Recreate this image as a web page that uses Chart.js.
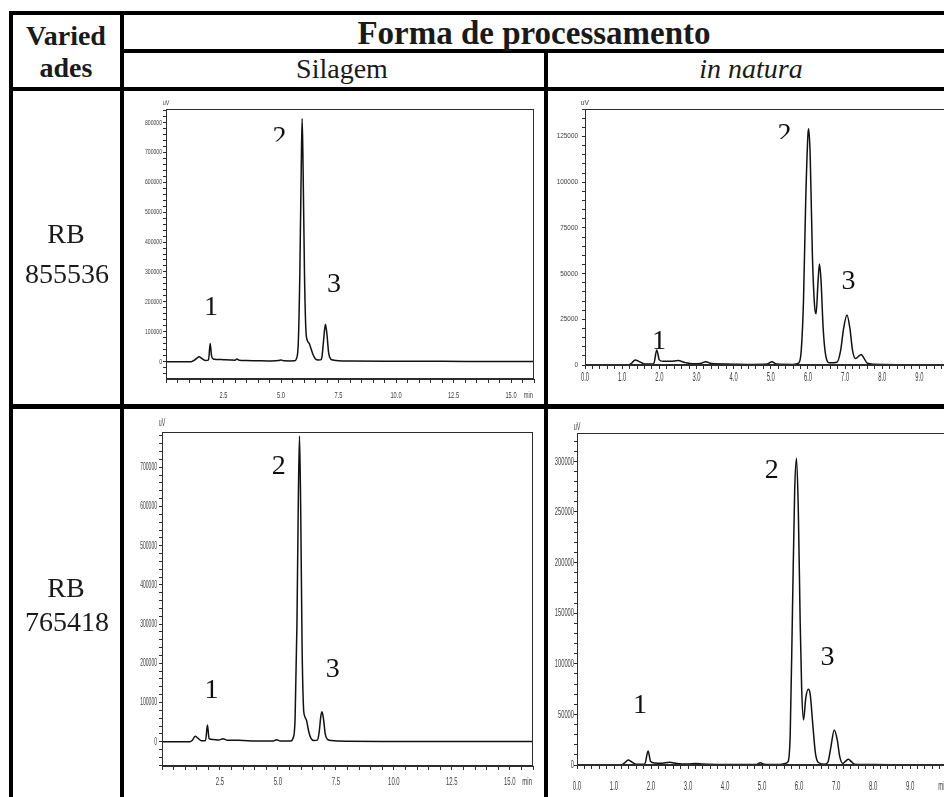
<!DOCTYPE html>
<html>
<head>
<meta charset="utf-8">
<script src="https://cdn.jsdelivr.net/npm/chart.js@4"></script>
<style>
  html, body { margin: 0; padding: 0; background: #fff; }
  #page { position: relative; width: 944px; height: 797px; overflow: hidden; background: #fff; }
  .rule { position: absolute; background: #000; }
  .cell-text { position: absolute; font-family: "Liberation Serif", "Times New Roman", serif;
               font-size: 28px; line-height: 28px; color: #1a1a1a; text-align: center; white-space: nowrap; }
  canvas { position: absolute; }
</style>
</head>
<body>
<div id="page">
  <canvas id="c1"></canvas>
  <canvas id="c2"></canvas>
  <canvas id="c3"></canvas>
  <canvas id="c4"></canvas>
</div>
<script>
// ---- table labels ----
const varietyHeader = ['Varied', 'ades'];
const groupHeader = 'Forma de processamento';
const processing = ['Silagem', 'in natura'];
const varieties = [['RB', '855536'], ['RB', '765418']];
const peakIds = ['1', '2', '3'];

// ---- chromatograms: retention time (min) and detector signal (uV) ----
const silagem855536Time = [0, 1.1, 1.25, 1.35, 1.44, 1.55, 1.7, 1.85, 1.92, 1.98, 2.05, 2.2, 2.5, 2.8, 3.0, 3.08, 3.18, 3.5, 4.0, 4.6, 4.9, 5.0, 5.12, 5.4, 5.6, 5.67, 5.75, 5.82, 5.88, 5.92, 5.96, 6.02, 6.08, 6.14, 6.22, 6.3, 6.4, 6.5, 6.62, 6.72, 6.78, 6.85, 6.93, 7.0, 7.07, 7.15, 7.3, 7.5, 8.0, 10, 12, 14, 16];
const silagem855536Signal = [0, 0, 6000, 12000, 16500, 11000, 4000, 6000, 61000, 20000, 9000, 7500, 6500, 5500, 5000, 8500, 5000, 4000, 3000, 2200, 3500, 5500, 3000, 2500, 3000, 10000, 60000, 300000, 650000, 813000, 650000, 300000, 110000, 72000, 62000, 45000, 22000, 9000, 5500, 6000, 15000, 70000, 124800, 90000, 30000, 10000, 5000, 3000, 2000, 1500, 1000, 800, 500];

const natura855536Time = [0, 1.15, 1.25, 1.35, 1.45, 1.6, 1.85, 1.93, 2.0, 2.1, 2.3, 2.5, 2.7, 2.9, 3.1, 3.25, 3.4, 3.8, 4.5, 4.9, 5.03, 5.15, 5.6, 5.75, 5.82, 5.88, 5.94, 6.0, 6.02, 6.06, 6.12, 6.18, 6.22, 6.27, 6.31, 6.35, 6.41, 6.48, 6.58, 6.78, 6.88, 6.96, 7.05, 7.13, 7.2, 7.28, 7.35, 7.43, 7.5, 7.6, 8.0, 9.0, 10.2];
const natura855536Signal = [0, 0, 900, 2700, 2000, 600, 600, 8200, 2800, 2000, 2000, 2400, 1300, 700, 800, 1800, 800, 600, 300, 500, 1800, 500, 300, 1000, 8000, 35000, 90000, 126000, 129200, 115000, 60000, 32000, 28000, 45000, 55300, 47000, 20000, 5000, 1200, 1500, 8000, 20000, 27400, 20000, 8000, 3500, 4500, 5800, 4000, 1000, 300, 200, 200];

const silagem765418Time = [0, 1.2, 1.3, 1.43, 1.55, 1.7, 1.88, 1.96, 2.03, 2.2, 2.45, 2.63, 2.8, 3.3, 4.0, 4.8, 4.95, 5.1, 5.55, 5.66, 5.74, 5.82, 5.88, 5.93, 5.98, 6.04, 6.1, 6.15, 6.23, 6.32, 6.42, 6.55, 6.7, 6.78, 6.85, 6.9, 6.96, 7.04, 7.12, 7.3, 7.6, 8, 10, 12, 14, 16];
const silagem765418Signal = [0, 0, 3000, 13600, 9000, 2500, 3000, 42500, 8000, 5500, 4500, 7500, 4000, 3500, 2000, 1500, 5000, 2000, 2000, 10000, 60000, 300000, 620000, 780000, 600000, 250000, 90000, 66000, 55000, 28000, 9000, 3000, 4000, 25000, 65000, 76500, 60000, 20000, 7000, 3000, 1500, 1000, 500, 300, 300, 200];

const natura765418Time = [0, 1.2, 1.3, 1.38, 1.48, 1.6, 1.83, 1.92, 1.99, 2.1, 2.3, 2.5, 2.7, 3.0, 3.2, 3.4, 4.0, 4.85, 4.95, 5.05, 5.5, 5.62, 5.7, 5.76, 5.82, 5.88, 5.93, 5.98, 6.03, 6.07, 6.12, 6.18, 6.25, 6.3, 6.37, 6.44, 6.52, 6.7, 6.78, 6.86, 6.95, 7.03, 7.1, 7.18, 7.25, 7.33, 7.42, 7.5, 8, 9, 10.2];
const natura765418Signal = [0, 0, 2500, 4900, 3000, 700, 800, 13800, 3500, 2000, 1800, 2600, 1500, 1000, 1600, 900, 500, 600, 2300, 800, 500, 1500, 3000, 30000, 150000, 270000, 303000, 250000, 140000, 75000, 44500, 66000, 74800, 70000, 40000, 12000, 2500, 800, 3000, 18000, 34600, 25000, 8000, 1600, 3500, 5600, 3000, 700, 400, 300, 300];

// ---- table drawing ----
const page = document.getElementById('page');
function rule(l, t, w, h) {
  const d = document.createElement('div');
  d.className = 'rule';
  Object.assign(d.style, { left: l + 'px', top: t + 'px', width: w + 'px', height: h + 'px' });
  page.appendChild(d);
}
// text centred on cx with its baseline at the given y
function cellText(str, cx, baseline, extra) {
  const d = document.createElement('div');
  d.className = 'cell-text';
  d.textContent = str;
  Object.assign(d.style, { left: (cx - 250) + 'px', width: '500px', top: (baseline - 23.4) + 'px' }, extra || {});
  page.appendChild(d);
}
rule(9, 11, 935, 4);      // top border
rule(9, 11, 4, 786);      // left border
rule(120, 11, 4, 786);    // first column
rule(120, 49, 824, 4);    // between header rows
rule(9, 87, 935, 4);      // under header
rule(544, 49, 4, 748);    // between processing columns
rule(9, 404, 935, 5);     // between varieties

cellText(varietyHeader[0], 66, 45, { fontWeight: 'bold' });
cellText(varietyHeader[1], 66, 77, { fontWeight: 'bold' });
cellText(groupHeader, 534, 44, { fontWeight: 'bold', fontSize: '33px', lineHeight: '28px', top: (44 - 25.1) + 'px' });
cellText(processing[0], 342, 78);
cellText(processing[1], 751, 78, { fontStyle: 'italic' });
cellText(varieties[0][0], 66, 243);
cellText(varieties[0][1], 67, 283);
cellText(varieties[1][0], 66, 597);
cellText(varieties[1][1], 67, 631);

// ---- chart helpers ----
function series(t, v) { return t.map((x, i) => ({ x: x, y: v[i] })); }
function isMultiple(v, step) { const q = v / step; return Math.abs(q - Math.round(q)) < 1e-6; }
function stepTicks(min, max, step) {
  const out = [];
  for (let k = Math.ceil(min / step - 1e-9); k * step <= max + 1e-9; k++) {
    out.push({ value: Math.round(k * step * 1000) / 1000 });
  }
  return out;
}

function squeezed(ctx, text, x, y, align, size, sx) {
  ctx.save();
  ctx.translate(x, y);
  ctx.scale(sx, 1);
  ctx.font = size + 'px "Liberation Sans", Arial, sans-serif';
  ctx.textAlign = align;
  ctx.textBaseline = 'middle';
  ctx.fillText(text, 0, 0);
  ctx.restore();
}

function makeOverlay(spec) {
  return {
    id: 'overlay',
    afterDraw(chart) {
      const ctx = chart.ctx, a = chart.chartArea, xs = chart.scales.x, ys = chart.scales.y;
      ctx.save();
      // plot frame
      ctx.strokeStyle = '#2c2c2c';
      ctx.lineWidth = 1;
      ctx.strokeRect(Math.round(a.left) + 0.5, Math.round(a.top) + 0.5,
                     Math.round(a.right - a.left) - 1, Math.round(a.bottom - a.top) - 1);
      ctx.fillStyle = '#3c3c3c';
      // y labels
      ys.ticks.forEach(t => {
        if (t.value >= 0 && isMultiple(t.value, spec.yLabelStep)) {
          squeezed(ctx, String(t.value), a.left - spec.yGap, ys.getPixelForValue(t.value), 'right', spec.yFont, spec.ySx);
        }
      });
      // x labels
      xs.ticks.forEach(t => {
        if (t.value >= spec.xLabelFrom && t.value <= spec.xLabelTo && isMultiple(t.value, spec.xLabelStep)) {
          squeezed(ctx, t.value.toFixed(1), xs.getPixelForValue(t.value), a.bottom + spec.xGap, 'center', spec.xFont, spec.xSx);
        }
      });
      squeezed(ctx, 'min', a.right - 1, a.bottom + spec.xGap, 'right', spec.xFont, spec.xSx);
      squeezed(ctx, 'uV', a.left, a.top - spec.unitGap, 'center', spec.unitFont, spec.ySx);
      // peak numbers
      ctx.fillStyle = '#111';
      ctx.font = '28px "Liberation Serif", "Times New Roman", serif';
      ctx.textAlign = 'center';
      ctx.textBaseline = 'alphabetic';
      spec.peaks.forEach((p, i) => {
        const px = xs.getPixelForValue(p.t), py = ys.getPixelForValue(p.v);
        ctx.save();
        if (p.cut) {
          ctx.beginPath();
          ctx.rect(px - 20, py - 40, 40, 40 - p.cut);
          ctx.clip();
        }
        ctx.fillText(peakIds[i], px, py);
        ctx.restore();
      });
      ctx.restore();
    }
  };
}

function buildChart(id, spec) {
  const cv = document.getElementById(id);
  cv.width = spec.box.w; cv.height = spec.box.h;
  cv.style.left = spec.box.l + 'px'; cv.style.top = spec.box.t + 'px';
  const axisColor = '#2c2c2c';
  return new Chart(cv, {
    type: 'line',
    data: {
      datasets: [{
        data: series(spec.time, spec.signal),
        borderColor: '#111', borderWidth: 1.5, pointRadius: 0,
        cubicInterpolationMode: 'monotone', fill: false
      }]
    },
    options: {
      responsive: false, animation: false, events: [],
      layout: { padding: { top: spec.pad.t, right: spec.pad.r, left: 0, bottom: 0 } },
      plugins: { legend: { display: false }, tooltip: { enabled: false } },
      scales: {
        x: {
          type: 'linear', min: spec.xMin, max: spec.xMax,
          ticks: { display: false },
          grid: { drawOnChartArea: false, drawTicks: true, tickLength: spec.xTick, color: axisColor, lineWidth: 1 },
          border: { display: true, color: axisColor, width: 1 },
          afterBuildTicks(s) { s.ticks = stepTicks(spec.xMin, spec.xMax, spec.xStep); },
          afterFit(s) { s.height = spec.xAxis; }
        },
        y: {
          type: 'linear', min: spec.yMin, max: spec.yMax,
          ticks: { display: false },
          grid: { drawOnChartArea: false, drawTicks: true, tickLength: spec.yTick, color: axisColor, lineWidth: 1 },
          border: { display: true, color: axisColor, width: 1 },
          afterBuildTicks(s) { s.ticks = stepTicks(spec.yMin, spec.yMax, spec.yStep); },
          afterFit(s) { s.width = spec.yAxis; }
        }
      }
    },
    plugins: [makeOverlay(spec)]
  });
}

buildChart('c1', {
  box: { l: 126, t: 95, w: 414, h: 308 }, pad: { t: 14, r: 6 }, yAxis: 40, xAxis: 24,
  time: silagem855536Time, signal: silagem855536Signal,
  xMin: 0, xMax: 16, xStep: 0.5, xTick: 4, xLabelStep: 2.5, xLabelFrom: 0.1, xLabelTo: 15,
  yMin: -58000, yMax: 845000, yStep: 20000, yTick: 3, yLabelStep: 100000,
  yFont: 7.5, ySx: 0.68, yGap: 4, xFont: 9.5, xSx: 0.6, xGap: 16, unitFont: 8, unitGap: 6,
  peaks: [{ t: 1.96, v: 156000 }, { t: 4.94, v: 726000, cut: 3 }, { t: 7.3, v: 234000 }]
});

buildChart('c2', {
  box: { l: 549, t: 95, w: 421, h: 308 }, pad: { t: 14, r: 6 }, yAxis: 36, xAxis: 38,
  time: natura855536Time, signal: natura855536Signal,
  xMin: 0, xMax: 10.2, xStep: 0.2, xTick: 4, xLabelStep: 1, xLabelFrom: 0, xLabelTo: 9.5,
  yMin: 0, yMax: 140000, yStep: 5000, yTick: 3, yLabelStep: 25000,
  yFont: 7.5, ySx: 0.85, yGap: 7, xFont: 13, xSx: 0.45, xGap: 12, unitFont: 8, unitGap: 6,
  peaks: [{ t: 1.99, v: 8600 }, { t: 5.37, v: 121900, cut: 3 }, { t: 7.09, v: 41400 }]
});

buildChart('c3', {
  box: { l: 126, t: 412, w: 414, h: 385 }, pad: { t: 20, r: 7 }, yAxis: 36, xAxis: 31,
  time: silagem765418Time, signal: silagem765418Signal,
  xMin: 0, xMax: 16, xStep: 0.5, xTick: 4, xLabelStep: 2.5, xLabelFrom: 0.1, xLabelTo: 15,
  yMin: -62000, yMax: 790000, yStep: 20000, yTick: 3, yLabelStep: 100000,
  yFont: 10.5, ySx: 0.48, yGap: 5, xFont: 11.5, xSx: 0.52, xGap: 16, unitFont: 11, unitGap: 9,
  peaks: [{ t: 2.14, v: 111400 }, { t: 5.04, v: 683000 }, { t: 7.36, v: 165800 }]
});

buildChart('c4', {
  box: { l: 549, t: 412, w: 406, h: 385 }, pad: { t: 21, r: 6 }, yAxis: 28, xAxis: 32,
  time: natura765418Time, signal: natura765418Signal,
  xMin: 0, xMax: 10.05, xStep: 0.2, xTick: 4, xLabelStep: 1, xLabelFrom: 0, xLabelTo: 9.5,
  yMin: 0, yMax: 328000, yStep: 10000, yTick: 3, yLabelStep: 50000,
  yFont: 11.5, ySx: 0.5, yGap: 3, xFont: 13.5, xSx: 0.45, xGap: 21, unitFont: 11, unitGap: 6,
  peaks: [{ t: 1.70, v: 51100 }, { t: 5.26, v: 283500 }, { t: 6.77, v: 98900 }]
});
</script>
</body>
</html>
